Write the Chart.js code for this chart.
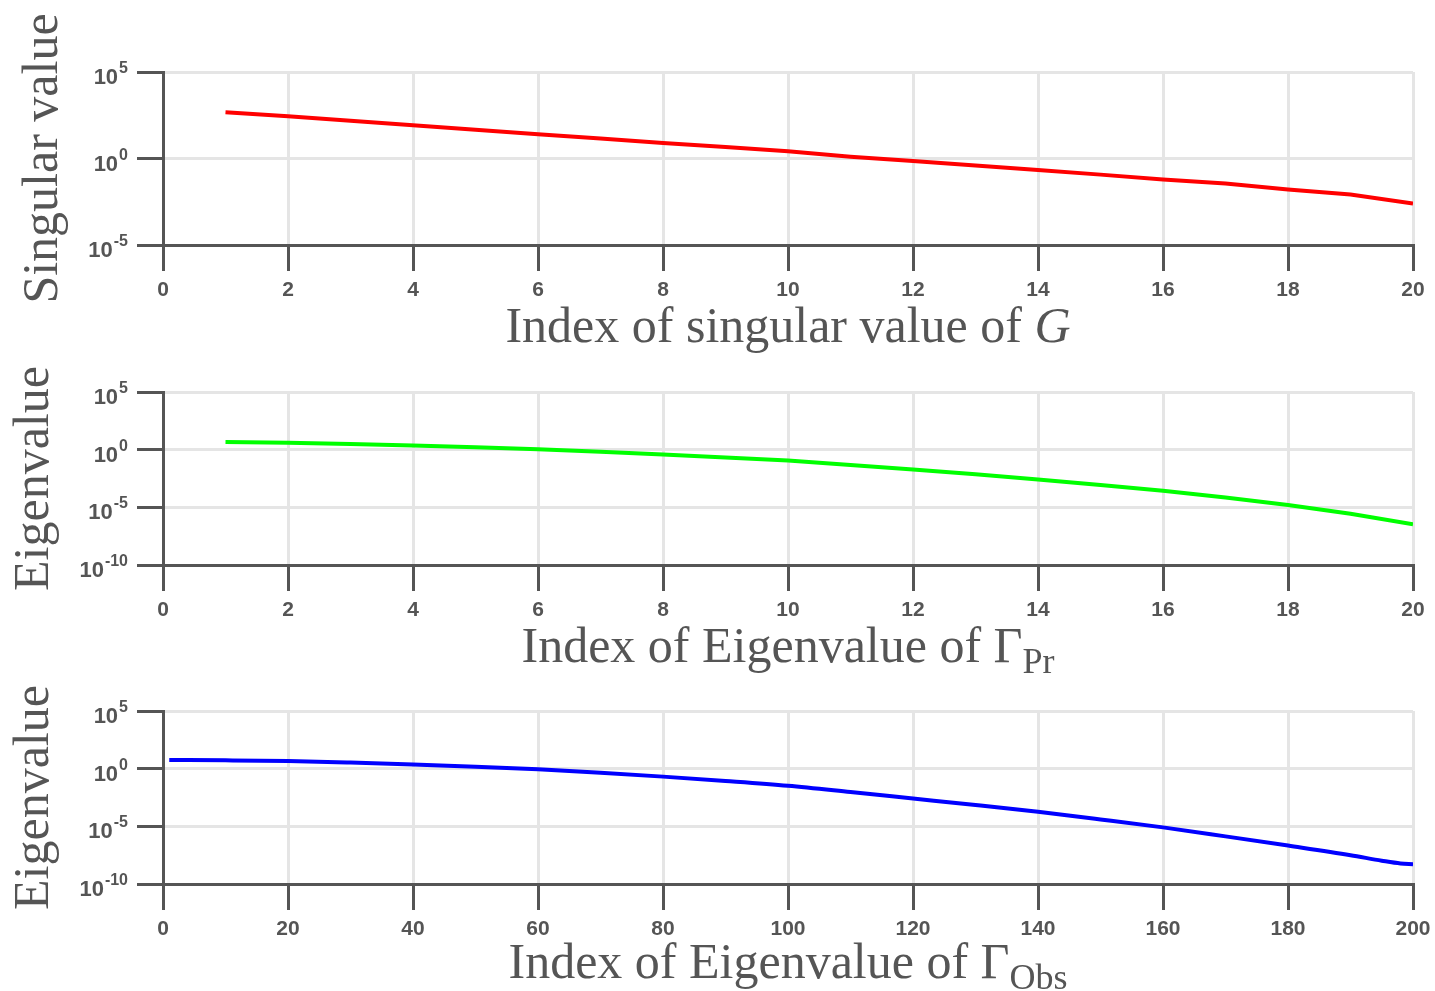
<!DOCTYPE html>
<html><head><meta charset="utf-8">
<script src="https://cdn.jsdelivr.net/npm/chart.js@4.4.0/dist/chart.umd.min.js"></script>
<style>
html,body{margin:0;padding:0;background:#fff;width:1435px;height:991px;overflow:hidden;}
canvas{position:absolute;left:0;}
</style></head><body>
<canvas id="c1" width="1435" height="355" style="top:0px"></canvas>
<canvas id="c2" width="1435" height="320" style="top:355px"></canvas>
<canvas id="c3" width="1435" height="316" style="top:675px"></canvas>
<script>
// ---- data ----
const sgIndex  = [1,2,3,4,5,6,7,8,9,10,11,12,13,14,15,16,17,18,19,20];
const sgValues = [468,275,151,83,45.7,25.1,14.1,7.94,4.57,2.63,1.26,0.708,0.389,0.214,0.117,0.0617,0.0355,0.0162,0.0083,0.00251];

const prIndex  = [1,2,3,4,5,6,7,8,9,10,11,12,13,14,15,16,17,18,19,20];
const prValues = [4.57,3.98,3.09,2.34,1.62,1.07,0.646,0.372,0.214,0.115,0.0479,0.0191,0.00724,0.00257,8.7e-4,2.75e-4,7.2e-5,1.58e-5,2.8e-6,3.4e-7];

const obsIndex  = [1,10,20,30,40,50,60,70,80,90,100,110,120,130,140,150,160,170,180,190,195,198,200];
const obsValues = [5.62,5.25,4.57,3.39,2.34,1.48,0.871,0.447,0.204,0.0851,0.0324,0.00933,0.00257,7.08e-4,1.82e-4,3.98e-5,8.13e-6,1.35e-6,2.14e-7,3.16e-8,1.05e-8,6.0e-9,5.25e-9];

const xTicksSmall = [0,2,4,6,8,10,12,14,16,18,20];
const xTicksLarge = [0,20,40,60,80,100,120,140,160,180,200];
const yTicks1   = [1e-5,1,1e5];
const yTickExp1 = ['-5','0','5'];
const yTicks23   = [1e-10,1e-5,1,1e5];
const yTickExp23 = ['-10','-5','0','5'];

const yTitles = ['Singular value','Eigenvalue','Eigenvalue'];
const xTitles = [
  [{t:'Index of singular value of '},{t:'G',italic:true}],
  [{t:'Index of Eigenvalue of \u0393'},{t:'Pr',sub:true}],
  [{t:'Index of Eigenvalue of \u0393'},{t:'Obs',sub:true}]
];
const colors = ['#ff0000','#00ff00','#0000ff'];

// ---- drawing ----
const AX = '#555555', GRID = '#e5e5e5', TXT = '#555555';
const SERIF = '"Liberation Serif", "DejaVu Serif", serif';
const SANS = '"Liberation Sans", Arial, sans-serif';

function decor(i, exps, yTitleX, xTitleOff) {
  return {
    id: 'decor' + i,
    afterDraw(chart) {
      const ctx = chart.ctx, ys = chart.scales.y, area = chart.chartArea;
      ctx.save();
      ctx.fillStyle = TXT;
      ctx.textAlign = 'right';
      ctx.textBaseline = 'alphabetic';
      ys.ticks.forEach((tk, k) => {
        const py = ys.getPixelForValue(tk.value);
        const rx = area.left - 35;
        ctx.font = 'bold 16px ' + SANS;
        const ew = ctx.measureText(exps[k]).width;
        ctx.fillText(exps[k], rx, py + 1);
        ctx.font = 'bold 22px ' + SANS;
        ctx.fillText('10', rx - ew - 1, py + 12);
      });
      // y title
      ctx.save();
      ctx.translate(yTitleX, (area.top + area.bottom) / 2);
      ctx.rotate(-Math.PI / 2);
      ctx.textAlign = 'center';
      ctx.font = '50px ' + SERIF;
      ctx.fillText(yTitles[i], 0, 0);
      ctx.restore();
      // x title
      const segs = xTitles[i];
      const fontOf = s => (s.italic ? 'italic ' : '') + (s.sub ? '36px ' : '50px ') + SERIF;
      let total = 0;
      segs.forEach(s => { ctx.font = fontOf(s); total += ctx.measureText(s.t).width; });
      let x = (area.left + area.right) / 2 - total / 2;
      const by = area.bottom + xTitleOff;
      ctx.textAlign = 'left';
      segs.forEach(s => {
        ctx.font = fontOf(s);
        ctx.fillText(s.t, x, by + (s.sub ? 11 : 0));
        x += ctx.measureText(s.t).width;
      });
      ctx.restore();
    }
  };
}

function makeChart(id, i, xs, ys, xTicks, xMax, yMin, yTicks, exps, padTop, xH, yTitleX, xTitleOff, smooth) {
  const pts = xs.map((v, k) => ({x: v, y: ys[k]}));
  new Chart(document.getElementById(id), {
    type: 'line',
    data: { datasets: [{ data: pts, borderColor: colors[i], borderWidth: 4, pointRadius: 0,
      fill: false, tension: 0, cubicInterpolationMode: smooth ? 'monotone' : 'default' }] },
    options: {
      responsive: false, animation: false, devicePixelRatio: 1,
      layout: { padding: { left: 0, right: 22, top: padTop, bottom: 0 } },
      plugins: { legend: { display: false }, tooltip: { enabled: false } },
      scales: {
        x: {
          type: 'linear', min: 0, max: xMax,
          afterBuildTicks: s => { s.ticks = xTicks.map(v => ({value: v})); },
          afterFit: s => { s.height = xH; s.paddingLeft = 0; s.paddingRight = 0; },
          grid: { color: GRID, lineWidth: 3, tickColor: AX, tickWidth: 3, tickLength: 26 },
          border: { color: AX, width: 3 },
          ticks: { color: TXT, font: { family: SANS, size: 21, weight: 'bold' }, padding: 7, maxRotation: 0, autoSkip: false }
        },
        y: {
          type: 'logarithmic', min: yMin, max: 1e5,
          afterBuildTicks: s => { s.ticks = yTicks.map(v => ({value: v})); },
          afterFit: s => { s.width = 163; s.paddingTop = 0; s.paddingBottom = 0; },
          grid: { color: GRID, lineWidth: 3, tickColor: AX, tickWidth: 3, tickLength: 26 },
          border: { color: AX, width: 3 },
          ticks: { display: false }
        }
      }
    },
    plugins: [decor(i, exps, yTitleX, xTitleOff)]
  });
}

makeChart('c1', 0, sgIndex, sgValues, xTicksSmall, 20, 1e-5, yTicks1, yTickExp1, 72, 110, 57, 97, false);
makeChart('c2', 1, prIndex, prValues, xTicksSmall, 20, 1e-10, yTicks23, yTickExp23, 37, 110, 48, 97, false);
makeChart('c3', 2, obsIndex, obsValues, xTicksLarge, 200, 1e-10, yTicks23, yTickExp23, 36, 107, 48, 94, true);
</script>
</body></html>
